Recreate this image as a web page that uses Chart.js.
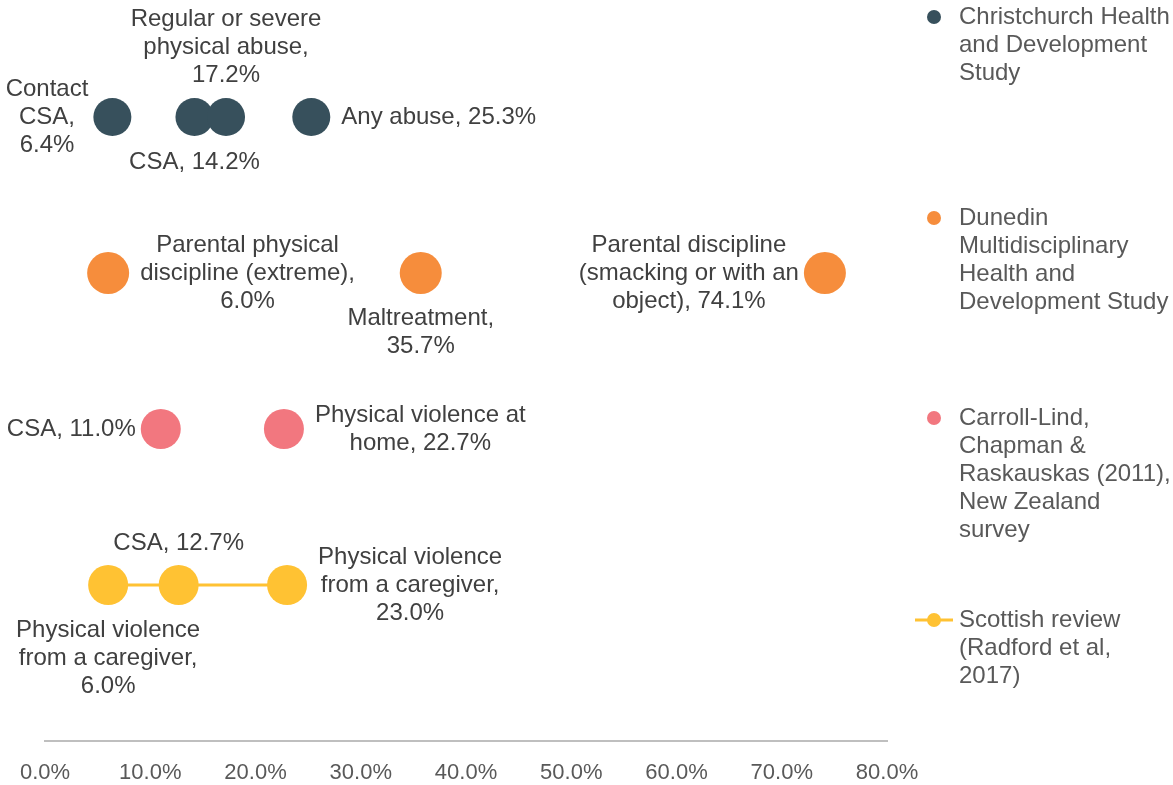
<!DOCTYPE html>
<html>
<head>
<meta charset="utf-8">
<script src="https://cdn.jsdelivr.net/npm/chart.js@4/dist/chart.umd.min.js"></script>
<style>
  html, body { margin: 0; padding: 0; background: #ffffff; }
  #wrap { width: 1173px; height: 785px; position: relative; }
</style>
</head>
<body>
<div id="wrap"><canvas id="c" width="1173" height="785"></canvas></div>
<script>
// ---- Data ----
const seriesNames = [
  ['Christchurch Health', 'and Development', 'Study'],
  ['Dunedin', 'Multidisciplinary', 'Health and', 'Development Study'],
  ['Carroll-Lind,', 'Chapman &', 'Raskauskas (2011),', 'New Zealand', 'survey'],
  ['Scottish review', '(Radford et al,', '2017)']
];
const seriesRows = [4, 3, 2, 1];

const christchurchValues = [6.4, 14.2, 17.2, 25.3];
const dunedinValues = [6.0, 35.7, 74.1];
const carrollValues = [11.0, 22.7];
const scottishValues = [6.0, 12.7, 23.0];

const christchurchLabels = [['Contact', 'CSA,', '6.4%'], ['CSA, 14.2%'], ['Regular or severe', 'physical abuse,', '17.2%'], ['Any abuse, 25.3%']];
const dunedinLabels = [['Parental physical', 'discipline (extreme),', '6.0%'], ['Maltreatment,', '35.7%'], ['Parental discipline', '(smacking or with an', 'object), 74.1%']];
const carrollLabels = [['CSA, 11.0%'], ['Physical violence at', 'home, 22.7%']];
const scottishLabels = [['Physical violence', 'from a caregiver,', '6.0%'], ['CSA, 12.7%'], ['Physical violence', 'from a caregiver,', '23.0%']];

const xTickValues = [0, 10, 20, 30, 40, 50, 60, 70, 80];

// ---- Styles (label placement relative to the point) ----
const christchurchPlace = ['left', 'below', 'above', 'right'];
const dunedinPlace = ['right', 'below', 'left'];
const carrollPlace = ['left', 'right'];
const scottishPlace = ['below', 'above', 'right'];

const colors = ['#37505C', '#F68D3C', '#F2777F', '#FFC233'];
const FONT = "'Liberation Sans', Arial, sans-serif";

function pts(values, row) { return values.map(v => ({ x: v, y: row })); }

const allLabels = [christchurchLabels, dunedinLabels, carrollLabels, scottishLabels];
const allPlace = [christchurchPlace, dunedinPlace, carrollPlace, scottishPlace];

const labelPlugin = {
  id: 'pointLabels',
  afterDatasetsDraw(chart) {
    const ctx = chart.ctx;
    ctx.save();
    ctx.font = '24px ' + FONT;
    ctx.fillStyle = '#404040';
    ctx.textAlign = 'center';
    ctx.textBaseline = 'middle';
    const lh = 28;
    chart.data.datasets.forEach((ds, i) => {
      const meta = chart.getDatasetMeta(i);
      const r = ds.pointRadius;
      meta.data.forEach((el, j) => {
        const lines = allLabels[i][j];
        const pos = allPlace[i][j];
        const w = Math.max(...lines.map(l => ctx.measureText(l).width));
        const n = lines.length;
        let cx, cy0;
        if (pos === 'right') { cx = el.x + r + 11 + w / 2; cy0 = el.y - (n - 1) * lh / 2; }
        else if (pos === 'left') { cx = el.x - r - 5 - w / 2; cy0 = el.y - (n - 1) * lh / 2; }
        else if (pos === 'above') { cx = el.x; cy0 = el.y - 42 - (n - 1) * lh; }
        else { cx = el.x; cy0 = el.y + 45; }
        lines.forEach((l, k) => ctx.fillText(l, cx, cy0 + k * lh));
      });
    });
    ctx.restore();
  }
};

const legendPlugin = {
  id: 'sideLegend',
  afterDraw(chart) {
    const ctx = chart.ctx;
    ctx.save();
    ctx.font = '24px ' + FONT;
    ctx.textAlign = 'left';
    ctx.textBaseline = 'middle';
    const tops = [17, 218, 418, 620];
    const lh = 28;
    chart.data.datasets.forEach((ds, i) => {
      const y = tops[i];
      const mx = 934;
      if (ds.showLine) {
        ctx.strokeStyle = ds.borderColor;
        ctx.lineWidth = 3;
        ctx.beginPath(); ctx.moveTo(915, y); ctx.lineTo(953, y); ctx.stroke();
      }
      ctx.fillStyle = ds.pointBackgroundColor;
      ctx.beginPath(); ctx.arc(mx, y, 7, 0, Math.PI * 2); ctx.fill();
      ctx.fillStyle = '#595959';
      seriesNames[i].forEach((l, k) => ctx.fillText(l, 959, y + k * lh));
    });
    ctx.restore();
  }
};

const datasets = [
  { label: seriesNames[0].join(' '), data: pts(christchurchValues, seriesRows[0]), pointRadius: 19 },
  { label: seriesNames[1].join(' '), data: pts(dunedinValues, seriesRows[1]), pointRadius: 21 },
  { label: seriesNames[2].join(' '), data: pts(carrollValues, seriesRows[2]), pointRadius: 20 },
  { label: seriesNames[3].join(' '), data: pts(scottishValues, seriesRows[3]), pointRadius: 20, showLine: true }
].map((d, i) => Object.assign({
  backgroundColor: colors[i],
  borderColor: colors[i],
  pointBackgroundColor: colors[i],
  pointBorderColor: colors[i],
  pointBorderWidth: 0,
  pointHoverRadius: d.pointRadius,
  borderWidth: 3,
  showLine: false,
  clip: false
}, d));

new Chart(document.getElementById('c'), {
  type: 'scatter',
  data: { datasets },
  options: {
    responsive: false,
    animation: false,
    events: [],
    layout: { autoPadding: false, padding: { left: 45, right: 286, top: 0, bottom: 0 } },
    plugins: { legend: { display: false }, tooltip: { enabled: false } },
    scales: {
      x: {
        type: 'linear',
        min: 0, max: 80,
        afterBuildTicks(scale) { scale.ticks = xTickValues.map(v => ({ value: v })); },
        afterFit(scale) { scale.height = 44; },
        grid: { display: false, drawTicks: false },
        border: { display: true, color: '#BFBFBF', width: 2 },
        ticks: {
          padding: 19,
          color: '#595959',
          font: { family: FONT, size: 22 },
          callback: v => Number(v).toFixed(1) + '%'
        }
      },
      y: {
        type: 'linear',
        min: 0, max: 4.75,
        display: false
      }
    }
  },
  plugins: [labelPlugin, legendPlugin]
});
</script>
</body>
</html>
